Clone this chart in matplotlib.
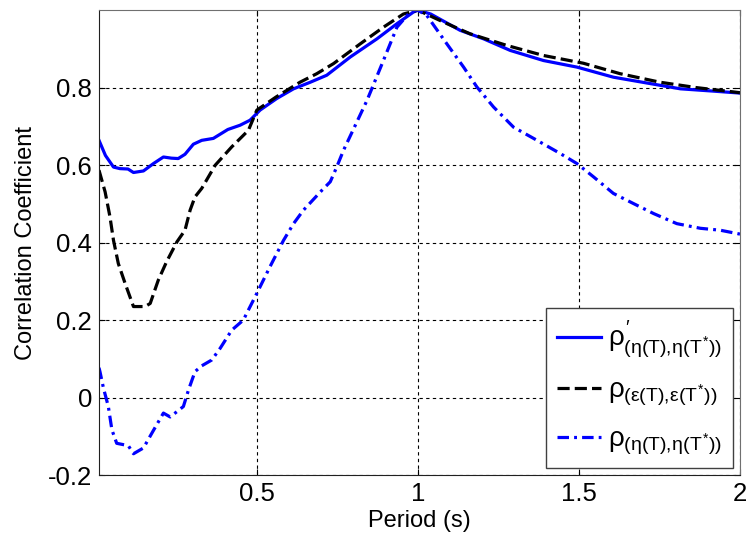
import numpy as np
import matplotlib
matplotlib.use('Agg')
import matplotlib.pyplot as plt

plt.rcParams['font.family'] = ['Liberation Sans', 'DejaVu Sans']
plt.rcParams['mathtext.fontset'] = 'custom'
plt.rcParams['mathtext.rm'] = 'Liberation Sans'
plt.rcParams['mathtext.it'] = 'Liberation Sans'
plt.rcParams['mathtext.bf'] = 'Liberation Sans:bold'
plt.rcParams['axes.unicode_minus'] = False

# rho' (eta) - solid blue
x_solid = [0.01, 0.03, 0.055, 0.075, 0.1, 0.117, 0.148, 0.179, 0.21, 0.235, 0.256, 0.277,
           0.303, 0.329, 0.365, 0.41, 0.448, 0.479, 0.51, 0.562, 0.614, 0.666, 0.717, 0.79,
           0.873, 0.935, 0.986, 1.0, 1.04, 1.131, 1.204, 1.287, 1.39, 1.494, 1.607, 1.711,
           1.815, 1.918, 2.0]
y_solid = [0.664, 0.625, 0.595, 0.591, 0.59, 0.581, 0.585, 0.604, 0.621, 0.618, 0.617, 0.628,
           0.654, 0.664, 0.669, 0.692, 0.703, 0.716, 0.742, 0.772, 0.797, 0.814, 0.832, 0.879,
           0.926, 0.965, 0.995, 1.0, 0.99, 0.948, 0.926, 0.896, 0.87, 0.853, 0.827, 0.812,
           0.797, 0.791, 0.786]

# rho (epsilon) - dashed black
x_dash = [0.01, 0.029, 0.044, 0.055, 0.07, 0.091, 0.117, 0.153, 0.169, 0.194, 0.22, 0.252,
          0.277, 0.293, 0.308, 0.329, 0.371, 0.422, 0.474, 0.5, 0.56, 0.634, 0.686, 0.738,
          0.821, 0.893, 0.955, 1.0, 1.08, 1.162, 1.276, 1.39, 1.514, 1.628, 1.752, 1.866,
          1.98, 2.0]
y_dash = [0.587, 0.531, 0.467, 0.406, 0.346, 0.295, 0.235, 0.235, 0.243, 0.303, 0.351, 0.402,
          0.432, 0.484, 0.518, 0.54, 0.6, 0.647, 0.69, 0.742, 0.776, 0.814, 0.836, 0.862,
          0.913, 0.956, 0.99, 1.0, 0.969, 0.939, 0.909, 0.883, 0.863, 0.836, 0.814, 0.8,
          0.789, 0.787]

# rho (eta) - dash-dot blue
x_dd = [0.01, 0.013, 0.024, 0.039, 0.05, 0.065, 0.101, 0.117, 0.148, 0.174, 0.21, 0.231,
        0.272, 0.288, 0.308, 0.329, 0.36, 0.386, 0.422, 0.458, 0.5, 0.541, 0.583, 0.614,
        0.645, 0.702, 0.728, 0.748, 0.769, 0.842, 0.893, 0.935, 0.98, 1.0, 1.028, 1.09,
        1.142, 1.183, 1.235, 1.297, 1.37, 1.442, 1.494, 1.545, 1.607, 1.669, 1.732, 1.804,
        1.877, 1.939, 2.0]
y_dd = [0.077, 0.067, 0.024, -0.023, -0.083, -0.118, -0.124, -0.145, -0.13, -0.092, -0.04, -0.05,
        -0.023, 0.02, 0.067, 0.082, 0.097, 0.127, 0.174, 0.2, 0.269, 0.338, 0.406, 0.449,
        0.484, 0.535, 0.557, 0.595, 0.638, 0.767, 0.87, 0.956, 0.999, 1.0, 0.986, 0.913,
        0.853, 0.802, 0.75, 0.698, 0.664, 0.63, 0.604, 0.57, 0.527, 0.501, 0.475, 0.449,
        0.437, 0.432, 0.422]

x_ticks = [0.5, 1, 1.5, 2]
x_ticklabels = ['0.5', '1', '1.5', '2']
y_ticks = [-0.2, 0, 0.2, 0.4, 0.6, 0.8]
y_ticklabels = ['-0.2', '0', '0.2', '0.4', '0.6', '0.8']

labels = [r'$\rho^{\prime}_{(\eta(T),\!\eta(T^{*}))}$',
          r'$\rho_{(\epsilon(T),\!\epsilon(T^{*}))}$',
          r'$\rho_{(\eta(T),\!\eta(T^{*}))}$']

fig = plt.figure(figsize=(7.46, 5.35), dpi=100)
ax = fig.add_axes([0.1327, 0.112, 0.8592, 0.869])

ax.plot(x_solid, y_solid, color='#0000ff', lw=2.3, label=labels[0])
ax.plot(x_dash, y_dash, color='black', lw=2.3, linestyle=(0, (3.8, 1.6)), label=labels[1])
ax.plot(x_dd, y_dd, color='#0000ff', lw=2.3, linestyle=(0, (3.6, 1.6, 0.9, 1.6)), label=labels[2])

ax.set_xlim(0.01, 2)
ax.set_ylim(-0.2, 1.0)
ax.set_xticks(x_ticks)
ax.set_xticklabels(x_ticklabels)
ax.set_yticks(y_ticks)
ax.set_yticklabels(y_ticklabels)
ax.tick_params(direction='in', length=4, labelsize=18.5, top=True, right=True, pad=5)

ax.grid(True, color='black', lw=0.8, linestyle=(0, (3, 3)))
for s in ['top', 'right']:
    ax.spines[s].set_color('#707070')
for s in ['left', 'bottom']:
    ax.spines[s].set_color('#202020')

ax.set_xlabel('Period (s)', fontsize=17, labelpad=3)
ax.set_ylabel('Correlation Coefficient', fontsize=17, labelpad=8)

leg = ax.legend(loc='lower right', bbox_to_anchor=(0.989, 0.015), fontsize=20,
                handlelength=1.6, handletextpad=0.25, borderpad=0.4, labelspacing=0.65,
                fancybox=False, framealpha=1, borderaxespad=0)
leg.get_frame().set_edgecolor('#404040')
leg.get_frame().set_linewidth(1.0)

fig.savefig('out.png', dpi=100)
